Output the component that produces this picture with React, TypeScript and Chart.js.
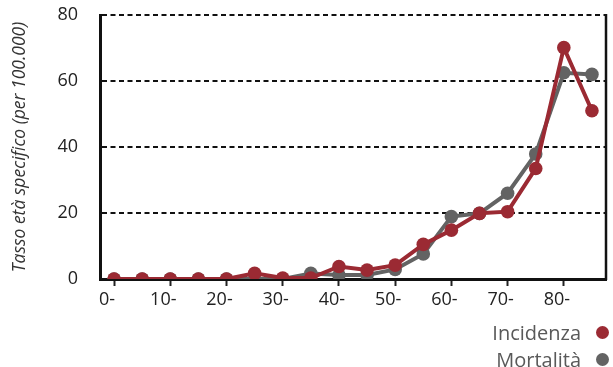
import React, { useEffect, useRef } from 'react';
import { Chart, registerables } from 'chart.js';
Chart.register(...registerables);

const categories = ['0-', '5-', '10-', '15-', '20-', '25-', '30-', '35-', '40-', '45-', '50-', '55-', '60-', '65-', '70-', '75-', '80-', '85-'];
const incidenza = [0, 0, 0, 0, 0, 1.7, 0.3, 0.3, 3.8, 2.7, 4.2, 10.5, 14.8, 19.9, 20.4, 33.5, 70.1, 51];
const mortalita = [0, 0, 0, 0, 0, 0, 0, 1.7, 1.2, 1.2, 2.9, 7.6, 18.9, 19.9, 26, 37.9, 62.5, 62];
const yTicks = [0, 20, 40, 60, 80];
const seriesNames = ['Incidenza', 'Mortalità'];
const seriesColors = ['#9b2a33', '#636363'];
const yTitle = 'Tasso età specifico (per 100.000)';

const FONT = '"Open Sans", "Noto Sans", sans-serif';

const rightBorder = {
  id: 'rightBorder',
  afterDraw(chart: any) {
    const { ctx, chartArea } = chart;
    ctx.save();
    ctx.strokeStyle = '#111';
    ctx.lineWidth = 2.5;
    ctx.beginPath();
    ctx.moveTo(chartArea.right, chartArea.top - 1);
    ctx.lineTo(chartArea.right, chartArea.bottom + 1);
    ctx.stroke();
    ctx.restore();
  },
};

export default function App() {
  const ref = useRef<HTMLCanvasElement | null>(null);
  useEffect(() => {
    if (!ref.current) return;
    const ds = (i: number, data: number[]) => ({
      label: seriesNames[i],
      data,
      borderColor: seriesColors[i],
      backgroundColor: seriesColors[i],
      borderWidth: 4,
      pointRadius: 6.8,
      pointHoverRadius: 6.8,
      pointBorderWidth: 0,
      tension: 0,
    });
    const chart = new Chart(ref.current, {
      type: 'line',
      data: {
        labels: categories,
        datasets: [ds(0, incidenza), ds(1, mortalita)],
      },
      options: {
        animation: false,
        responsive: false,
        layout: { padding: { left: 0, right: 7, top: 15, bottom: 0 } },
        plugins: { legend: { display: false }, tooltip: { enabled: false } },
        scales: {
          x: {
            type: 'category',
            offset: true,
            afterFit: (s: any) => { s.height = 88; },
            grid: {
              drawOnChartArea: false,
              drawTicks: true,
              tickLength: 7,
              tickWidth: 2,
              tickColor: (c: any) => (c.index % 2 === 0 ? '#222' : 'rgba(0,0,0,0)'),
            },
            border: { display: true, color: '#111', width: 3 },
            ticks: {
              autoSkip: false,
              maxRotation: 0,
              padding: 3,
              labelOffset: -7,
              color: '#222',
              font: { family: FONT, size: 18 },
              callback: (_v: any, i: number) => (i % 2 === 0 ? categories[i] : ''),
            },
          },
          y: {
            min: 0,
            max: 80,
            afterFit: (s: any) => { s.width = 100; },
            afterBuildTicks: (s: any) => { s.ticks = yTicks.map((v) => ({ value: v })); },
            grid: {
              color: '#111',
              lineWidth: 2,
              drawTicks: true,
              tickLength: 20,
              tickColor: 'rgba(0,0,0,0)',
            },
            border: { display: true, color: '#111', width: 3, dash: [5, 3.5] },
            ticks: {
              padding: 2,
              color: '#222',
              font: { family: FONT, size: 18 },
            },
            title: {
              display: true,
              text: yTitle,
              color: '#333',
              font: { family: FONT, size: 17.5, style: 'italic' },
              padding: { top: 10, bottom: 0 },
            },
          },
        },
      },
      plugins: [rightBorder],
    } as any);
    return () => chart.destroy();
  }, []);

  return (
    <div style={{ position: 'absolute', left: 0, top: 0, width: 613, height: 367 }}>
      <canvas ref={ref} width={613} height={367} />
      <div
        style={{
          position: 'absolute',
          right: 4,
          top: 318.5,
          fontFamily: FONT,
          fontSize: 20,
          lineHeight: '27px',
          color: '#595959',
          textAlign: 'right',
        }}
      >
        {seriesNames.map((n, i) => (
          <div key={n} style={{ display: 'flex', alignItems: 'center', justifyContent: 'flex-end' }}>
            <span>{n}</span>
            <span
              style={{
                display: 'inline-block',
                width: 13,
                height: 13,
                borderRadius: '50%',
                background: seriesColors[i],
                marginLeft: 15,
              }}
            />
          </div>
        ))}
      </div>
    </div>
  );
}
